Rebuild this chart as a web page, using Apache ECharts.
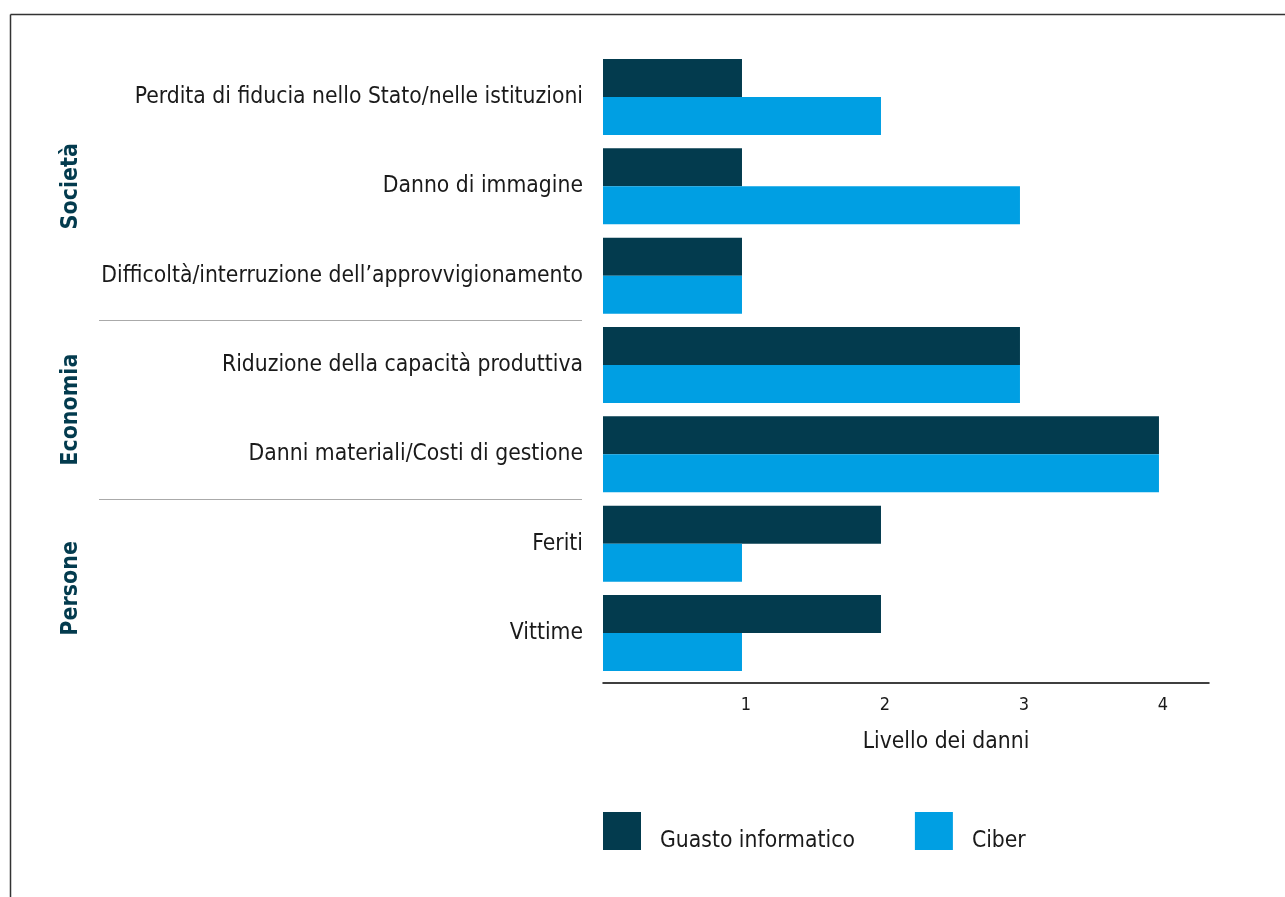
<!DOCTYPE html>
<html>
<head>
<meta charset="utf-8">
<script src="https://cdn.jsdelivr.net/npm/echarts@6/dist/echarts.min.js"></script>
<style>
html,body{margin:0;padding:0;background:#fff;}
#chart{width:1285px;height:897px;}
</style>
</head>
<body>
<div id="chart"></div>
<script>
const categories = [
  'Perdita di fiducia nello Stato/nelle istituzioni',
  'Danno di immagine',
  'Difficoltà/interruzione dell’approvvigionamento',
  'Riduzione della capacità produttiva',
  'Danni materiali/Costi di gestione',
  'Feriti',
  'Vittime'
];
const guastoInformatico = [1, 1, 1, 3, 4, 2, 2];
const ciber = [2, 3, 1, 3, 4, 1, 1];
const seriesNames = ['Guasto informatico', 'Ciber'];
const groupNames = ['Società', 'Economia', 'Persone'];
const groupStarts = [0, 3, 5];
const groupEnds = [2, 4, 6];
const xTicks = [1, 2, 3, 4];

const FONT = '"Liberation Sans Narrow", "DejaVu Sans Condensed", sans-serif';
const DARK = '#033b4e';
const LIGHT = '#009fe3';

const chart = echarts.init(document.getElementById('chart'), null, {renderer: 'canvas'});
const option = {
  animation: false,
  backgroundColor: '#fff',
  grid: {left: 603, width: 606, top: 52.3, height: 625.4, containLabel: false},
  xAxis: {
    type: 'value', min: 0, max: 4.36, interval: 1,
    offset: 5,
    axisLine: {show: true, lineStyle: {color: '#000', width: 1.5}},
    axisTick: {show: false},
    splitLine: {show: false},
    axisLabel: {
      fontFamily: FONT, fontSize: 18, color: '#1a1a1a', margin: 14, padding: [0,0,0,8],
      formatter: v => xTicks.indexOf(v) >= 0 ? String(v) : ''
    },
    name: 'Livello dei danni', nameLocation: 'middle', nameGap: 48,
    nameTextStyle: {fontFamily: FONT, fontSize: 22.7, color: '#1a1a1a', padding: [0,0,0,80]}
  },
  yAxis: {
    type: 'category', data: categories, inverse: true,
    axisLine: {show: false}, axisTick: {show: false}, splitLine: {show: false},
    axisLabel: {fontFamily: FONT, fontSize: 22.7, color: '#1a1a1a', margin: 20, padding: [6,0,0,0]}
  },
  legend: {
    left: 603, top: 812, padding: 0, itemWidth: 38, itemHeight: 38, itemGap: 60,
    icon: 'rect',
    formatter: name => '{t|' + name + '}',
    textStyle: {fontFamily: FONT, fontSize: 22.7, color: '#1a1a1a', padding: [0,0,0,14],
      rich: {t: {fontFamily: FONT, fontSize: 22.7, color: '#1a1a1a', padding: [20,0,0,0]}}},
    data: seriesNames
  },
  series: [
    {name: seriesNames[0], type: 'bar', data: guastoInformatico, barWidth: 38, barGap: '0%',
     itemStyle: {color: DARK}},
    {name: seriesNames[1], type: 'bar', data: ciber, barWidth: 38, barGap: '0%',
     itemStyle: {color: LIGHT}}
  ]
};
chart.setOption(option);

function yOf(i) { return chart.convertToPixel({yAxisIndex: 0}, i); }
const graphics = [
  {type: 'line', shape: {x1: 10.5, y1: 14.5, x2: 1285, y2: 14.5}, style: {stroke: '#333', lineWidth: 1.5}},
  {type: 'line', shape: {x1: 10.5, y1: 14.5, x2: 10.5, y2: 897}, style: {stroke: '#333', lineWidth: 1.5}}
];
for (let g = 0; g < groupNames.length; g++) {
  const yc = (yOf(groupStarts[g]) + yOf(groupEnds[g])) / 2;
  graphics.push({
    type: 'text', x: 71, y: yc, rotation: Math.PI / 2,
    style: {text: groupNames[g], fontFamily: FONT, fontSize: 23, fontWeight: 'bold', fill: DARK,
            textAlign: 'center', textVerticalAlign: 'middle'}
  });
  if (g > 0) {
    const yb = Math.round((yOf(groupStarts[g]) + yOf(groupEnds[g - 1])) / 2) + 0.5;
    graphics.push({type: 'line', shape: {x1: 99, y1: yb, x2: 582, y2: yb}, style: {stroke: '#aaa', lineWidth: 1.2}});
  }
}
chart.setOption({graphic: graphics});
</script>
</body>
</html>
